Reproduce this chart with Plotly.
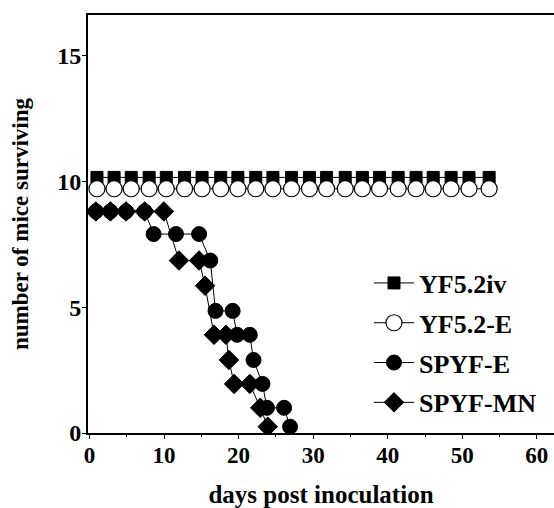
import plotly.graph_objects as go

# ---- data ----
yf_days = [1.0, 3.3, 5.6, 8.0, 10.3, 12.75, 15.1, 17.6, 19.9, 22.3, 24.6, 27.1,
           29.5, 31.8, 34.3, 36.6, 38.9, 41.4, 43.8, 46.1, 48.5, 50.9, 53.6]
yf52iv = [10.15] * len(yf_days)
yf52e = [9.7] * len(yf_days)

spyfe_days = [0.85, 2.8, 4.9, 7.4, 8.6, 11.6, 14.7, 16.2, 16.9, 19.2, 19.8, 21.5,
              22.0, 23.2, 23.8, 26.1, 26.9]
spyfe_vals = [8.8, 8.8, 8.8, 8.8, 7.9, 7.9, 7.9, 6.85, 4.85, 4.85, 3.9, 3.9,
              2.9, 1.95, 1.0, 1.0, 0.25]

spyfmn_days = [0.85, 2.8, 4.9, 7.4, 9.97, 12.0, 14.7, 15.5, 16.7, 18.3, 18.7,
               19.4, 21.5, 22.9, 23.9]
spyfmn_vals = [8.8, 8.8, 8.8, 8.8, 8.8, 6.85, 6.85, 5.85, 3.9, 3.9, 2.9,
               1.95, 1.95, 1.0, 0.25]

x_ticks = [0, 10, 20, 30, 40, 50, 60]
y_ticks = [0, 5, 10, 15]

FONT = "Liberation Serif"

fig = go.Figure()
line = dict(color="black", width=1)

fig.add_trace(go.Scatter(x=yf_days, y=yf52iv, name="<b>YF5.2iv</b>", mode="lines+markers",
                         line=line, legendrank=1, legendgroup="a",
                         marker=dict(symbol="square", size=12, color="black",
                                     line=dict(color="black", width=1))))
fig.add_trace(go.Scatter(x=yf_days, y=yf52e, name="<b>YF5.2-E</b>", mode="lines+markers",
                         line=line, legendrank=2, legendgroup="b",
                         marker=dict(symbol="circle", size=16, color="white",
                                     line=dict(color="black", width=1.2))))
fig.add_trace(go.Scatter(x=spyfmn_days, y=spyfmn_vals, name="<b>SPYF-MN</b>", mode="lines+markers",
                         line=line, legendrank=4, legendgroup="d",
                         marker=dict(symbol="diamond", size=15, color="black",
                                     line=dict(color="black", width=1))))
fig.add_trace(go.Scatter(x=spyfe_days, y=spyfe_vals, name="<b>SPYF-E</b>", mode="lines+markers",
                         line=line, legendrank=3, legendgroup="c",
                         marker=dict(symbol="circle", size=15, color="black",
                                     line=dict(color="black", width=1))))

fig.update_layout(
    width=554, height=508,
    margin=dict(l=88, r=0, t=15, b=75, autoexpand=False),
    paper_bgcolor="white", plot_bgcolor="white",
    font=dict(family=FONT, color="black", size=22),
    showlegend=True,
    legend=dict(x=0.603, y=0.415, xanchor="left", yanchor="top",
                font=dict(family=FONT, size=26, color="black"),
                bgcolor="rgba(0,0,0,0)", traceorder="grouped", tracegroupgap=3,
                itemwidth=40),
    xaxis=dict(range=[-0.2, 62.3], tickvals=x_ticks, automargin=False,
               ticktext=[f"<b>{v}</b>" for v in x_ticks],
               showgrid=False, zeroline=False, showline=True, linecolor="black",
               linewidth=1.8, mirror=True, ticks="outside", ticklen=4,
               tickcolor="black", tickfont=dict(family=FONT, size=23),
               ticklabelstandoff=-4,
               minor=dict(tickvals=[5, 15, 25, 35, 45, 55], ticks="outside",
                          ticklen=2, tickcolor="black"),
               title=dict(text="<b>days post inoculation</b>",
                          font=dict(family=FONT, size=25), standoff=26)),
    yaxis=dict(range=[0, 16.6], tickvals=y_ticks, automargin=False,
               ticktext=[f"<b>{v}</b>" for v in y_ticks],
               showgrid=False, zeroline=False, showline=True, linecolor="black",
               linewidth=1.8, ticks="outside", ticklen=4, tickcolor="black",
               tickfont=dict(family=FONT, size=24), ticklabelstandoff=-4,
               title=dict(text="<b>number of mice surviving</b>",
                          font=dict(family=FONT, size=23), standoff=22)),
)

fig.write_html("out.html", config={"displayModeBar": False},
               post_script="document.body.style.margin='0';document.body.style.overflow='hidden';")
